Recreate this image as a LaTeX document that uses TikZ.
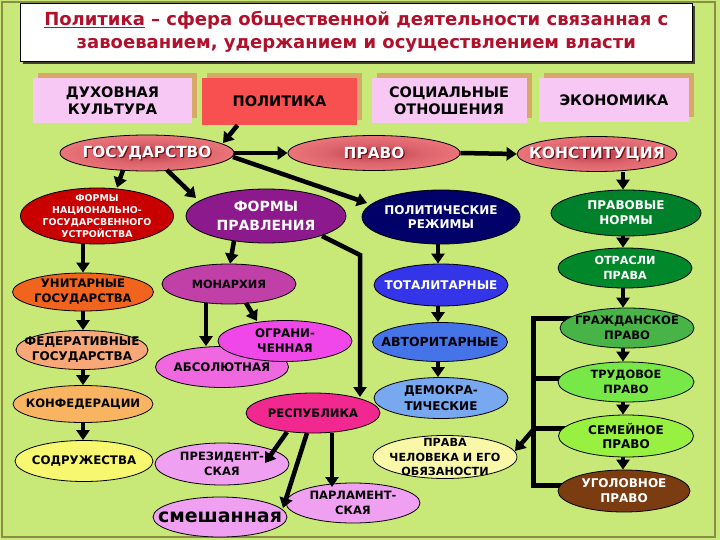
\documentclass[tikz,border=0pt]{standalone}
\usepackage{fontspec}
\setmainfont{DejaVu Sans}
\usetikzlibrary{shapes.geometric,arrows.meta,calc}
\definecolor{bg}{HTML}{C8E878}
\definecolor{framec}{HTML}{8C8C48}
\definecolor{titlered}{HTML}{B0102A}
\definecolor{boxpink}{HTML}{F8C8F4}
\definecolor{boxtan}{HTML}{D8A868}
\definecolor{boxred}{HTML}{F85050}
\definecolor{rose}{HTML}{F07C80}
\definecolor{roseglow}{HTML}{B83848}
\definecolor{txtshadow}{HTML}{6A1018}
\definecolor{fnatc}{HTML}{C80000}
\definecolor{fprc}{HTML}{8C1A8C}
\definecolor{polrezc}{HTML}{000068}
\definecolor{pnormc}{HTML}{00802A}
\definecolor{otrc}{HTML}{00882A}
\definecolor{monc}{HTML}{C040A8}
\definecolor{unitc}{HTML}{F0641E}
\definecolor{totc}{HTML}{3434E8}
\definecolor{ogrc}{HTML}{F048E8}
\definecolor{absc}{HTML}{F068E0}
\definecolor{fedc}{HTML}{F8A878}
\definecolor{avtc}{HTML}{4474E8}
\definecolor{grazhc}{HTML}{48B448}
\definecolor{konfc}{HTML}{F8B460}
\definecolor{respc}{HTML}{F02890}
\definecolor{demc}{HTML}{78A8F0}
\definecolor{trudc}{HTML}{78E848}
\definecolor{sodrc}{HTML}{F8F870}
\definecolor{violc}{HTML}{F0A0F0}
\definecolor{pravac}{HTML}{F8F8A8}
\definecolor{semc}{HTML}{98F040}
\definecolor{ugolc}{HTML}{7A3C10}
\pgfdeclareradialshading{glow}{\pgfpoint{0bp}{0bp}}{color(0bp)=(roseglow); color(14bp)=(rose!65!roseglow); color(30bp)=(rose); color(50bp)=(rose)}
\tikzset{
  ell/.style={ellipse, draw=black, line width=0.8pt, inner sep=0pt},
  lbl/.style n args={2}{font=\bfseries\fontsize{#1}{#2}\selectfont, align=center, inner sep=0pt},
  arr/.style={line width=4.5pt, -{Triangle[width=13pt,length=10pt]}},
  br/.style={line width=5pt, line cap=rect},
  topbox/.style={rectangle, inner sep=0pt},
}
\newcommand\mkell[8]{%
  \node[ell, minimum width=#4pt, minimum height=#5pt, #6] (#1) at (#2,#3) {};
  \node[#7] (#1-t) at (#1) {#8};}
\newcommand\mkbox[7]{%
  \node[topbox, fill=boxtan, minimum width=#4pt, minimum height=#5pt] (#1-sh) at (#2+5,#3-5) {};
  \node[topbox, fill=#6, minimum width=#4pt, minimum height=#5pt, lbl={14.5}{17.5}] (#1) at (#2,#3) {#7};}
\begin{document}
\begin{tikzpicture}[x=1pt,y=-1pt]
\useasboundingbox (0,0) rectangle (720,540);
\fill[bg] (0,0) rectangle (720,540);
\draw[framec, line width=1.6pt] (2,2) rectangle (715,537);

% title
\fill[black!70!olive] (23,6) rectangle (694.5,64);
\node[rectangle, draw=black, line width=0.6pt, fill=white, minimum width=672pt, minimum height=58pt, anchor=north west, inner sep=0pt] (title) at (20,3) {};
\node[lbl={18}{23}, text=titlered] (title-t) at (title) {\underline{Политика} – сфера общественной деятельности связанная с\\завоеванием, удержанием и осуществлением власти};

% top row
\mkbox{duh}{112.5}{100.5}{159}{45}{boxpink}{ДУХОВНАЯ\\КУЛЬТУРА}
\mkbox{polit}{279.5}{101.5}{155}{47}{boxred}{ПОЛИТИКА}
\mkbox{soc}{449}{100.5}{155}{45}{boxpink}{СОЦИАЛЬНЫЕ\\ОТНОШЕНИЯ}
\mkbox{econ}{614}{100}{150}{44}{boxpink}{ЭКОНОМИКА}

% bracket (under the ellipses)
\coordinate (bt) at (533,318);
\coordinate (bb) at (533,485);
\coordinate (bk) at (533,430);
\coordinate (t2) at (533,378);
\coordinate (t3) at (533,428);
\coordinate (col) at (623,0);
\coordinate (lcol) at (83,0);
\coordinate (mcol) at (438,0);
\coordinate (grazhx) at (600,318);
\coordinate (trudx) at (600,378);
\coordinate (semx) at (600,428);
\coordinate (ugolx) at (600,485);
\draw[br, line join=miter] (grazhx) -- (bt) -- (bb) -- (ugolx);
\draw[br] (t2) -- (trudx);
\draw[br] (t3) -- (semx);

% second row
\node[ell, minimum width=174pt, minimum height=36pt, shading=glow] (gos) at (147,153) {};
\node[lbl={15.3}{18}, text=txtshadow] (gos-s) at ($(gos)+(1.3,1.3)$) {ГОСУДАРСТВО};
\node[lbl={15.3}{18}, text=white] (gos-t) at (gos) {ГОСУДАРСТВО};
\node[ell, minimum width=172pt, minimum height=35pt, shading=glow] (pravo) at (374,153) {};
\node[lbl={15.3}{18}, text=txtshadow] (pravo-s) at ($(pravo)+(1.3,1.3)$) {ПРАВО};
\node[lbl={15.3}{18}, text=white] (pravo-t) at (pravo) {ПРАВО};
\node[ell, minimum width=160pt, minimum height=35pt, shading=glow] (konst) at (597,154) {};
\node[lbl={15.5}{18}, text=txtshadow] (konst-s) at ($(konst)+(1.3,1.3)$) {КОНСТИТУЦИЯ};
\node[lbl={15.5}{18}, text=white] (konst-t) at (konst) {КОНСТИТУЦИЯ};

% third row
\mkell{fnat}{97}{216}{153}{56}{fill=fnatc}{lbl={9.4}{12}, text=white}{ФОРМЫ\\НАЦИОНАЛЬНО-\\ГОСУДАРСВЕННОГО\\УСТРОЙСТВА}
\mkell{fpr}{266}{216}{160}{54}{fill=fprc}{lbl={14}{19}, text=white}{ФОРМЫ\\ПРАВЛЕНИЯ}
\mkell{polrez}{441}{217}{158}{54}{fill=polrezc}{lbl={12}{14}, text=white}{ПОЛИТИЧЕСКИЕ\\РЕЖИМЫ}
\mkell{pnorm}{626}{213}{150}{46}{fill=pnormc}{lbl={12}{15}, text=white}{ПРАВОВЫЕ\\НОРМЫ}

% fourth row
\mkell{otr}{625}{268}{134}{40}{fill=otrc}{lbl={11.2}{15}, text=white}{ОТРАСЛИ\\ПРАВА}
\mkell{monarch}{229}{284}{134}{40}{fill=monc}{lbl={11.3}{14}, text=black}{МОНАРХИЯ}
\mkell{unit}{83}{292}{141}{38}{fill=unitc}{lbl={11.7}{15}, text=black}{УНИТАРНЫЕ\\ГОСУДАРСТВА}
\mkell{total}{441}{285}{134}{42}{fill=totc}{lbl={12}{14}, text=white}{ТОТАЛИТАРНЫЕ}

\mkell{abs}{222}{367}{133}{41}{fill=absc}{lbl={11.8}{14}, text=black}{}
\mkell{ogr}{285}{341}{134}{41}{fill=ogrc}{lbl={11.8}{15}, text=black}{ОГРАНИ-\\ЧЕННАЯ}
\node[lbl={11.8}{14}, text=black] (abs-label) at (abs) {АБСОЛЮТНАЯ};
\mkell{fed}{82}{350}{132}{39}{fill=fedc}{lbl={12}{15}, text=black}{ФЕДЕРАТИВНЫЕ\\ГОСУДАРСТВА}
\mkell{avt}{440}{342}{135}{39}{fill=avtc}{lbl={12.5}{14}, text=black}{АВТОРИТАРНЫЕ}
\mkell{grazh}{627}{328}{134}{40}{fill=grazhc}{lbl={11.6}{15}, text=black}{ГРАЖДАНСКОЕ\\ПРАВО}

\mkell{konf}{83}{404}{140}{37}{fill=konfc}{lbl={11.6}{14}, text=black}{КОНФЕДЕРАЦИИ}
\mkell{resp}{313}{413}{134}{40}{fill=respc}{lbl={11.6}{14}, text=black}{РЕСПУБЛИКА}
\mkell{dem}{441}{398}{134}{41}{fill=demc}{lbl={12}{16}, text=black}{ДЕМОКРА-\\ТИЧЕСКИЕ}
\mkell{trud}{626}{382}{136}{40}{fill=trudc}{lbl={11.4}{15}, text=black}{ТРУДОВОЕ\\ПРАВО}

\mkell{sodr}{84}{461}{138}{41}{fill=sodrc}{lbl={11.8}{14}, text=black}{СОДРУЖЕСТВА}
\mkell{prez}{222}{464}{134}{42}{fill=violc}{lbl={11.5}{15}, text=black}{ПРЕЗИДЕНТ-\\СКАЯ}
\mkell{prava}{445}{457}{144}{43}{fill=pravac}{lbl={11.2}{14.5}, text=black}{ПРАВА\\ЧЕЛОВЕКА И ЕГО\\ОБЯЗАНОСТИ}
\mkell{sem}{626}{436}{135}{42}{fill=semc}{lbl={12}{14.5}, text=black}{СЕМЕЙНОЕ\\ПРАВО}
\mkell{ugol}{624}{491}{132}{42}{fill=ugolc}{lbl={12}{15}, text=white}{УГОЛОВНОЕ\\ПРАВО}
\mkell{parl}{353}{503}{134}{40}{fill=violc}{lbl={11.5}{15}, text=black}{ПАРЛАМЕНТ-\\СКАЯ}
\mkell{smesh}{220}{517}{134}{40}{fill=violc}{lbl={19}{20}, text=black}{смешанная}

% arrows
\draw[arr] ($(polit.south)+(-42,0)$) -- ($(gos)+(76,-10)$);
\draw[arr] (gos.east) -- (pravo.west);
\draw[arr] (pravo.east) -- (konst.west);
\draw[arr] ($(gos)+(-24,17)$) -- ($(fnat.north)+(20,0)$);
\draw[arr] ($(gos)+(20,17)$) -- ($(fpr)+(-70,-18)$);
\draw[arr] ($(gos)+(86,4)$) -- ($(polrez)+(-74,-14)$);
\draw[arr] (col |- konst.south) -- (col |- pnorm.north);
\draw[arr] (col |- pnorm.south) -- (col |- otr.north);
\draw[arr] (col |- otr.south) -- (col |- grazh.north);
\draw[arr] (col |- grazh.south) -- (col |- trud.north);
\draw[arr] (col |- trud.south) -- (col |- sem.north);
\draw[arr] (col |- sem.south) -- (col |- ugol.north);
\draw[arr] (lcol |- fnat.south) -- (lcol |- unit.north);
\draw[arr] (lcol |- unit.south) -- (lcol |- fed.north);
\draw[arr] (lcol |- fed.south) -- (lcol |- konf.north);
\draw[arr] (lcol |- konf.south) -- (lcol |- sodr.north);
\draw[arr] (mcol |- polrez.south) -- (mcol |- total.north);
\draw[arr] (mcol |- total.south) -- (mcol |- avt.north);
\draw[arr] (mcol |- avt.south) -- (mcol |- dem.north);
\draw[arr] ($(fpr)+(-32,25)$) -- ($(monarch.north)+(1,0)$);
\draw[arr, line join=miter] ($(fpr)+(56,20)$) -- ($(fpr)+(94,39)$) -- ($(resp)+(47,-16)$);
\draw[arr] ($(monarch)+(-23,19)$) -- ($(abs.north)+(-16,0)$);
\draw[arr] ($(monarch)+(17,19)$) -- ($(ogr)+(-28,-20)$);
\draw[arr] ($(resp)+(-26,19)$) -- ($(prez)+(43,-1)$);
\draw[arr] ($(resp)+(-6,20)$) -- ($(smesh)+(63,-9)$);
\draw[arr] ($(resp)+(19,20)$) -- ($(parl)+(-21,-16)$);
\draw[arr] (bk) -- ($(prava)+(70,-6)$);
\end{tikzpicture}
\end{document}
